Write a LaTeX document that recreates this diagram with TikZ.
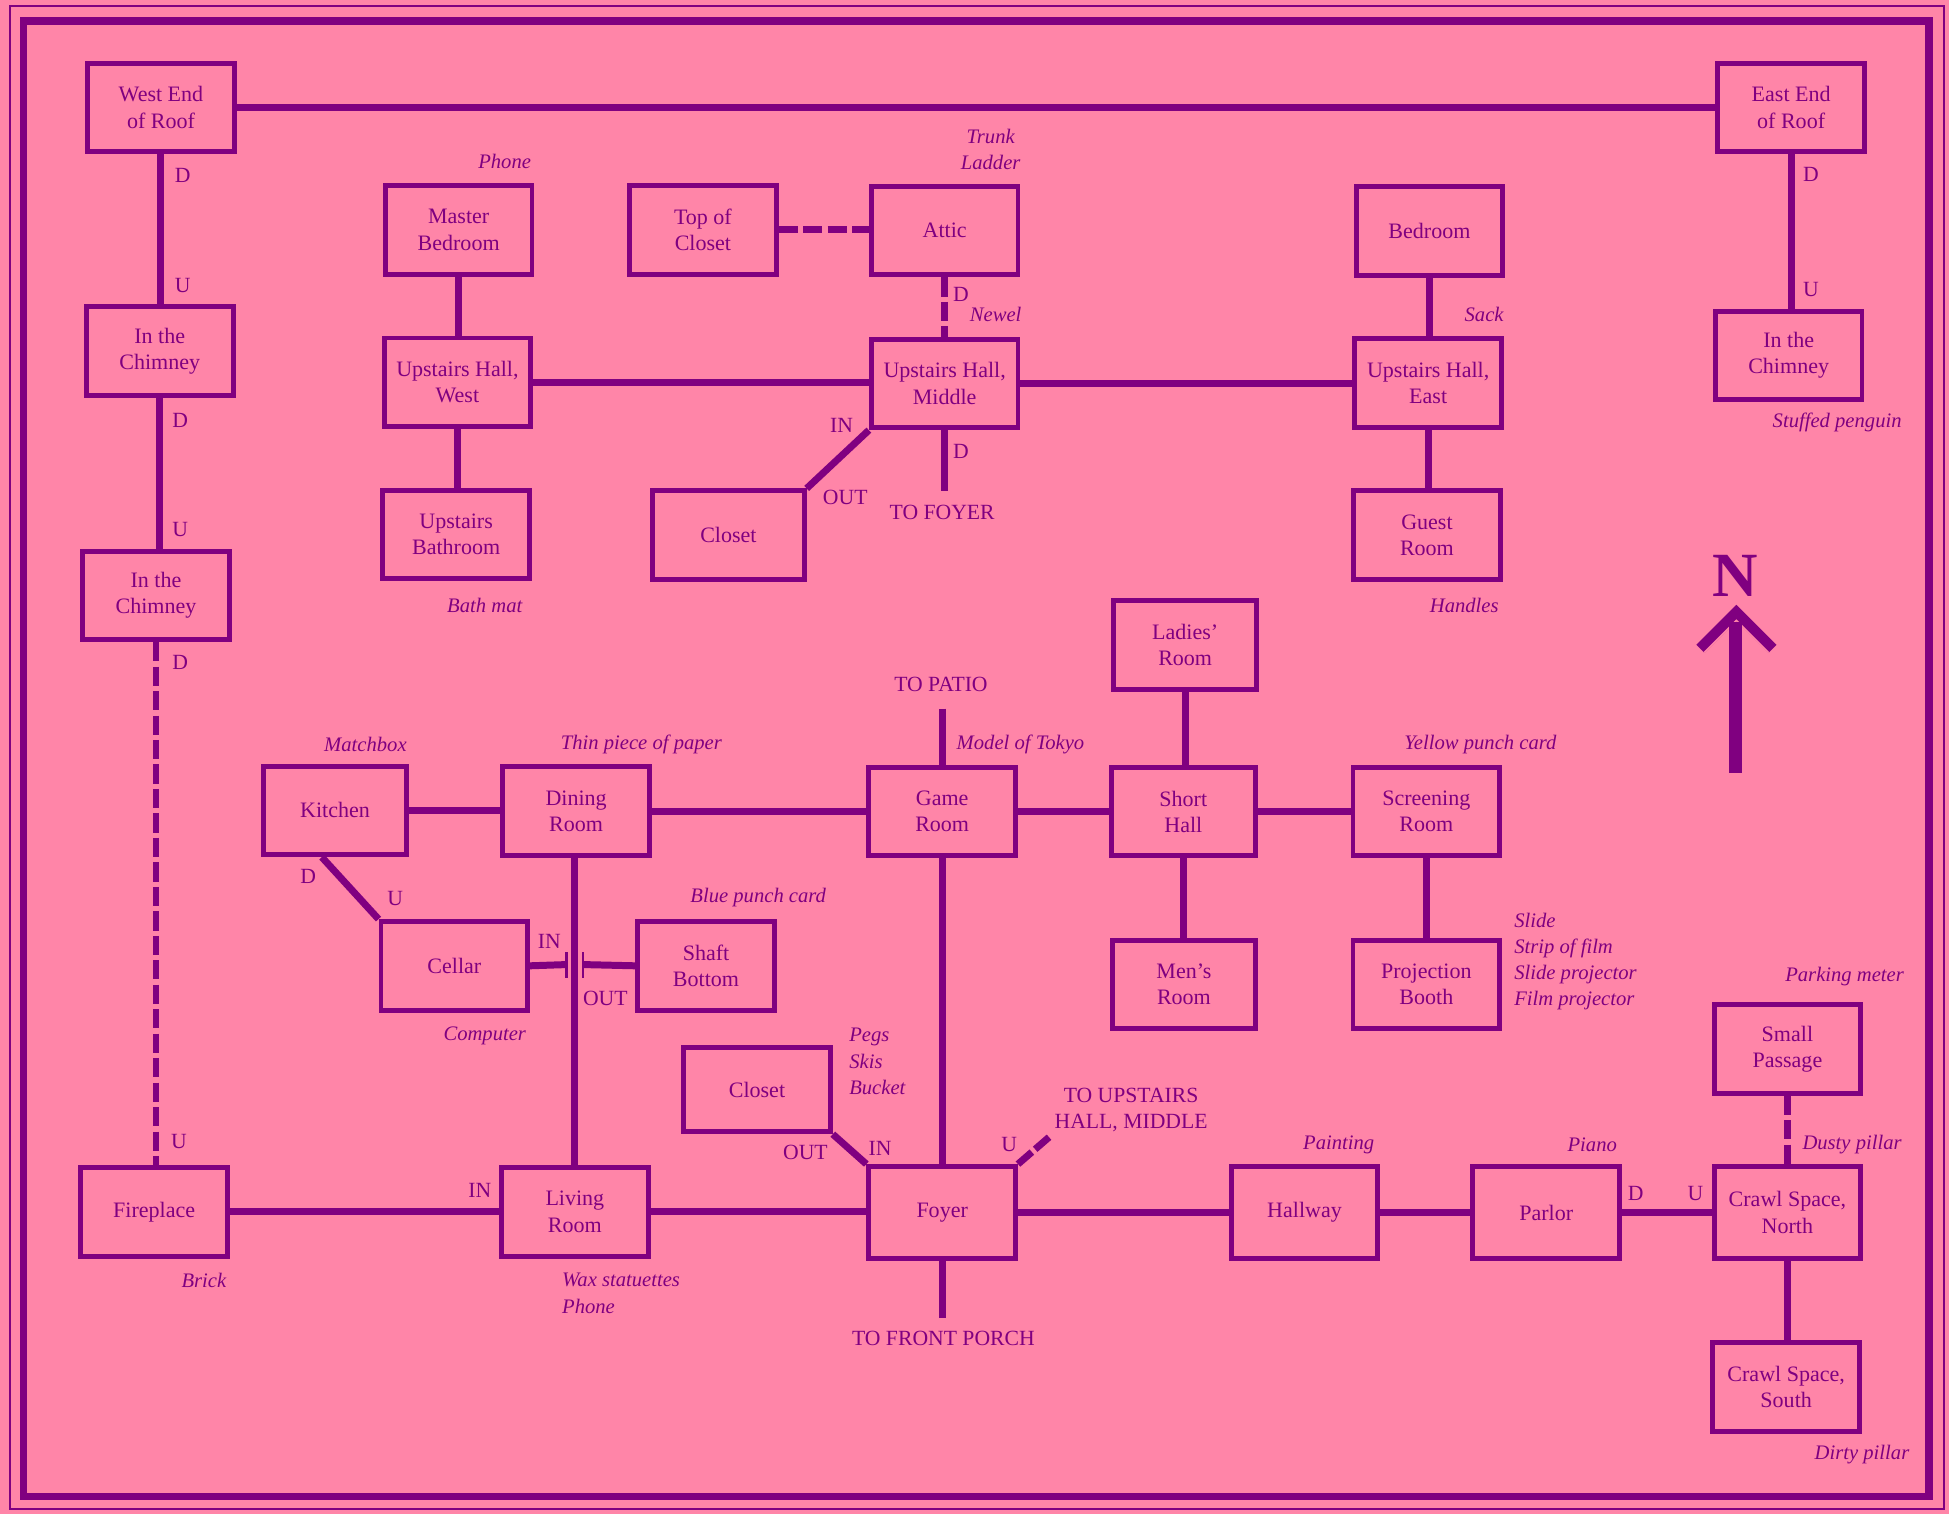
\documentclass[tikz,border=0pt]{standalone}
\usepackage{fontspec}
\setmainfont{Liberation Serif}
\definecolor{bgpink}{RGB}{255,133,168}
\definecolor{pur}{RGB}{128,0,128}
\begin{document}
\begin{tikzpicture}[x=0.025cm,y=-0.025cm,
  room/.style={draw=pur,line width=2.8pt,minimum width=2.95cm,minimum height=1.78cm,inner sep=0pt,align=center,text=pur,font=\fontsize{12.6}{15}\selectfont},
  conn/.style={draw=pur,line width=4pt},
  dconn/.style={conn,dash pattern=on 11pt off 3pt},
  dir/.style={text=pur,font=\fontsize{12.4}{14}\selectfont,inner sep=0pt},
  item/.style={text=pur,font=\fontsize{11.8}{15}\selectfont\itshape,inner sep=0pt,align=left},
  tickmark/.style={draw=pur,line width=1.6pt}]
\fill[bgpink] (0,0) rectangle (1568,1218);
\useasboundingbox (0,0) rectangle (1568,1218);
\draw[pur,line width=4.2pt] (19,17) rectangle (1552,1204);
\draw[pur,line width=0.9pt] (8,5) rectangle (1564,1214);
% rooms
\node[room] (wroof) at (129.5,86.5) {West End\\of Roof};
\node[room] (eroof) at (1441,86.5) {East End\\of Roof};
\node[room] (chwa) at (128.5,282.5) {In the\\Chimney};
\node[room] (chwb) at (125.5,479) {In the\\Chimney};
\node[room] (fire) at (124,975) {Fireplace};
\node[room] (master) at (369,185) {Master\\Bedroom};
\node[room] (topcl) at (565.5,185) {Top of\\Closet};
\node[room] (attic) at (760,185.5) {Attic};
\node[room] (bed) at (1150,186) {Bedroom};
\node[room] (uhw) at (368,307.5) {Upstairs Hall,\\West};
\node[room] (uhm) at (760,308.5) {Upstairs Hall,\\Middle};
\node[room] (uhe) at (1149,308) {Upstairs Hall,\\East};
\node[room] (che) at (1439,286) {In the\\Chimney};
\node[room] (bath) at (367,430) {Upstairs\\Bathroom};
\node[room,minimum width=3.05cm] (clup) at (586,430.5) {Closet};
\node[room] (guest) at (1148,430.5) {Guest\\Room};
\node[room,minimum width=2.88cm] (ladies) at (953.5,519) {Ladies'\\Room};
\node[room,minimum width=2.88cm] (kitchen) at (269.5,652) {Kitchen};
\node[room] (dining) at (463.5,652.5) {Dining\\Room};
\node[room] (game) at (758,653) {Game\\Room};
\node[room,minimum width=2.9cm] (short) at (952,653) {Short\\Hall};
\node[room] (screen) at (1147.5,653) {Screening\\Room};
\node[room] (cellar) at (365.5,777) {Cellar};
\node[room,minimum width=2.75cm] (shaft) at (568,777) {Shaft\\Bottom};
\node[room,minimum width=2.88cm] (mens) at (952.5,792) {Men's\\Room};
\node[room] (proj) at (1147.5,792) {Projection\\Booth};
\node[room] (small) at (1438,844) {Small\\Passage};
\node[room,minimum height=1.7cm] (cldn) at (609,876.5) {Closet};
\node[room] (living) at (462.5,975) {Living\\Room};
\node[room,minimum height=1.85cm] (foyer) at (758,975.5) {Foyer};
\node[room,minimum height=1.85cm] (hallway) at (1049.5,975.5) {Hallway};
\node[room,minimum height=1.85cm] (parlor) at (1244,975.5) {Parlor};
\node[room,minimum height=1.85cm] (crawln) at (1438,975.5) {Crawl Space,\\North};
\node[room] (crawls) at (1437,1116) {Crawl Space,\\South};
% free ends
\coordinate (tofoyer) at (760,395);
\coordinate (topatio) at (758,570);
\coordinate (toporch) at (758,1060);
\coordinate (foyup) at (845,914);
\coordinate (tickL) at (456,776);
\coordinate (tickR) at (469,776);
% connectors
\draw[conn] (wroof.east) -- (eroof.west);
\draw[conn] (wroof.south) -- (wroof.south |- chwa.north);
\draw[conn] (chwa.south) -- (chwa.south |- chwb.north);
\draw[dconn] (chwb.south) -- (chwb.south |- fire.north);
\draw[conn] (eroof.south) -- (eroof.south |- che.north);
\draw[conn] (master.south) -- (master.south |- uhw.north);
\draw[conn] (uhw.south) -- (uhw.south |- bath.north);
\draw[conn] (uhw.east) -- (uhw.east -| uhm.west);
\draw[dconn] (topcl.east) -- (topcl.east -| attic.west);
\draw[dconn] (attic.south) -- (attic.south |- uhm.north);
\draw[conn] (uhm.east) -- (uhm.east -| uhe.west);
\draw[conn] (uhm.south) -- (tofoyer);
\draw[conn] (uhm.south west) -- (clup.north east);
\draw[conn] (bed.south) -- (bed.south |- uhe.north);
\draw[conn] (uhe.south) -- (uhe.south |- guest.north);
\draw[conn] (ladies.south) -- (ladies.south |- short.north);
\draw[conn] (kitchen.east) -- (kitchen.east -| dining.west);
\draw[conn] (dining.east) -- (dining.east -| game.west);
\draw[conn] (game.east) -- (game.east -| short.west);
\draw[conn] (short.east) -- (short.east -| screen.west);
\draw[conn] (topatio) -- (game.north);
\draw[conn] (short.south) -- (short.south |- mens.north);
\draw[conn] (screen.south) -- (screen.south |- proj.north);
\draw[conn] (kitchen.south west) ++(49,0) -- (cellar.north west);
\draw[conn] (dining.south -| living.north) -- (living.north);
\draw[conn] (cellar.east) -- (tickL);
\draw[tickmark] (tickL) ++(0,-10) -- ++(0,21);
\draw[tickmark] (tickR) ++(0,-10) -- ++(0,21);
\draw[conn] (tickR) -- (shaft.west);
\draw[conn] (game.south) -- (game.south |- foyer.north);
\draw[conn] (cldn.south east) -- (foyer.north west);
\draw[dconn,dash pattern=on 10.5pt off 2.5pt] (foyer.north east) -- (foyup);
\draw[conn] (foyer.south) -- (toporch);
\draw[conn] (fire.east) -- (fire.east -| living.west);
\draw[conn] (living.east) -- (living.east -| foyer.west);
\draw[conn] (foyer.east) -- (foyer.east -| hallway.west);
\draw[conn] (hallway.east) -- (hallway.east -| parlor.west);
\draw[conn] (parlor.east) -- (parlor.east -| crawln.west);
\draw[dconn] (small.south) -- (small.south |- crawln.north);
\draw[conn] (crawln.south) -- (crawln.south |- crawls.north);
% direction labels
\node[dir] (d1) at (147,141) {D};
\node[dir] (u1) at (147,230) {U};
\node[dir] (d2) at (145,338) {D};
\node[dir] (u2) at (145,426) {U};
\node[dir] (d3) at (145,533) {D};
\node[dir] (u3) at (144,918) {U};
\node[dir] (d4) at (1457,140) {D};
\node[dir] (u4) at (1457,233) {U};
\node[dir] (d5) at (773,237) {D};
\node[dir] (d6) at (773,363) {D};
\node[dir] (in1) at (677,342) {IN};
\node[dir] (out1) at (680,400) {OUT};
\node[dir] (d7) at (248,705) {D};
\node[dir] (u7) at (318,723) {U};
\node[dir] (in2) at (442,757) {IN};
\node[dir] (out2) at (487,803) {OUT};
\node[dir] (out3) at (648,927) {OUT};
\node[dir] (in3) at (708,924) {IN};
\node[dir] (u8) at (812,921) {U};
\node[dir] (in4) at (386,958) {IN};
\node[dir] (d9) at (1316,960) {D};
\node[dir] (u9) at (1364,960) {U};
\node[dir] (tfo) at (758,412) {TO FOYER};
\node[dir] (tpa) at (757,551) {TO PATIO};
\node[dir] (tpo) at (759,1077) {TO FRONT PORCH};
\node[dir,align=center,font=\fontsize{12.4}{14.5}\selectfont] (tuh) at (910,893) {TO UPSTAIRS\\HALL, MIDDLE};
% items
\node[item] (i1) at (406,130) {Phone};
\node[item,align=center] (i2) at (797,120) {Trunk\\Ladder};
\node[item] (i3) at (801,253) {Newel};
\node[item] (i4) at (1194,253) {Sack};
\node[item] (i5) at (1478,340) {Stuffed penguin};
\node[item] (i6) at (390,487) {Bath mat};
\node[item] (i7) at (1178,487) {Handles};
\node[item] (i8) at (294,599) {Matchbox};
\node[item] (i9) at (516,599) {Thin piece of paper};
\node[item] (i10) at (821,599) {Model of Tokyo};
\node[item] (i11) at (1191,599) {Yellow punch card};
\node[item] (i12) at (610,722) {Blue punch card};
\node[item] (i13) at (390,833) {Computer};
\node[item,anchor=west] (i14) at (1218,773.5) {Slide\\Strip of film\\Slide projector\\Film projector};
\node[item] (i15) at (1484,786) {Parking meter};
\node[item,anchor=west] (i16) at (683,854) {Pegs\\Skis\\Bucket};
\node[item] (i17) at (1077,921) {Painting};
\node[item] (i18) at (1281,921) {Piano};
\node[item] (i19) at (1490,921) {Dusty pillar};
\node[item] (i20) at (164,1030) {Brick};
\node[item,anchor=west] (i21) at (452,1040.5) {Wax statuettes\\Phone};
\node[item] (i22) at (1498,1170) {Dirty pillar};
% north arrow
\node[text=pur,font=\fontsize{36}{36}\selectfont\bfseries,inner sep=0pt] (north) at (1396,463) {N};
\draw[pur,line width=6.5pt,miter limit=10] (1368,522) -- (1397,493) -- (1426,522);
\draw[bgpink,line width=0.8pt] (1371,525) -- (1397,499) -- (1423,525);
\draw[pur,line width=7.5pt] (1396,500) -- (1396,622);
\end{tikzpicture}
\end{document}
